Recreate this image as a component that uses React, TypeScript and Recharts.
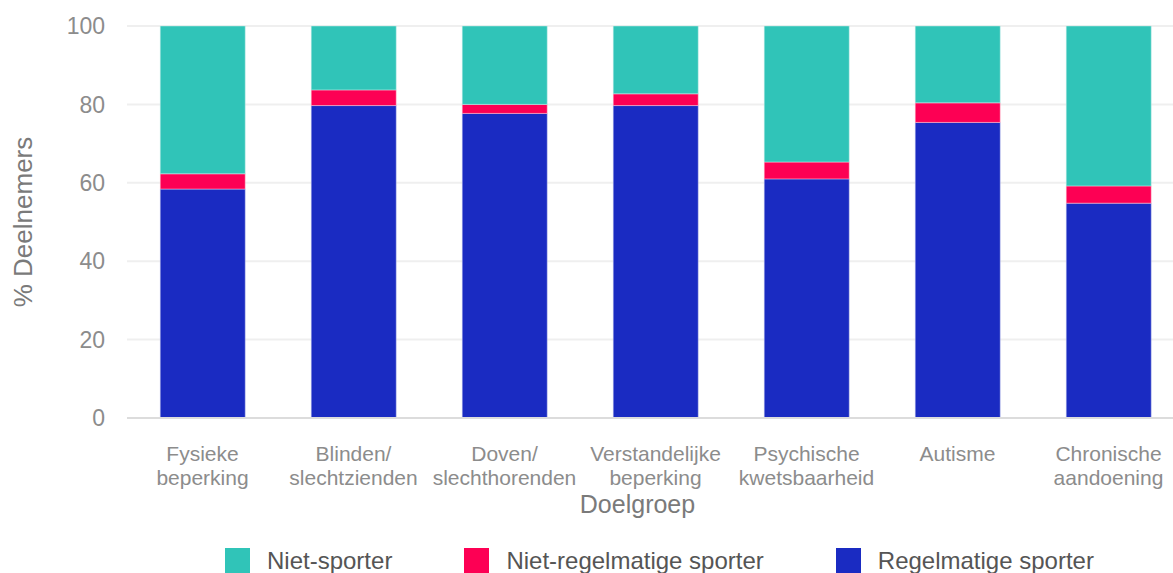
import { BarChart, Bar, XAxis, YAxis, CartesianGrid, Legend, Label } from 'recharts';

const categories = [
  'Fysieke\nbeperking',
  'Blinden/\nslechtzienden',
  'Doven/\nslechthorenden',
  'Verstandelijke\nbeperking',
  'Psychische\nkwetsbaarheid',
  'Autisme',
  'Chronische\naandoening',
];
const regelmatig = [58.4, 79.7, 77.7, 79.7, 61.0, 75.4, 54.8];
const nietRegelmatig = [3.9, 4.0, 2.3, 3.0, 4.3, 5.0, 4.4];
const nietSporter = [37.7, 16.3, 20.0, 17.3, 34.7, 19.6, 40.8];
const yTicks = [0, 20, 40, 60, 80, 100];

const data = categories.map((name, i) => ({
  name,
  regelmatig: regelmatig[i],
  nietRegelmatig: nietRegelmatig[i],
  nietSporter: nietSporter[i],
}));

const legendItems = [
  { label: 'Niet-sporter', color: '#30c4b8' },
  { label: 'Niet-regelmatige sporter', color: '#fd0054' },
  { label: 'Regelmatige sporter', color: '#1a2bc2' },
];

const FONT = '"Liberation Sans", Arial, sans-serif';

function CategoryTick({ x, y, payload }: any) {
  const lines = String(payload.value).split('\n');
  return (
    <text x={x} y={y + 35} textAnchor="middle" fill="#8c8c8c" fontSize={21} fontFamily={FONT}>
      {lines.map((line, i) => (
        <tspan key={i} x={x} dy={i === 0 ? 0 : 24}>
          {line}
        </tspan>
      ))}
    </text>
  );
}

function SportLegend() {
  return (
    <div
      style={{
        display: 'flex',
        justifyContent: 'flex-start',
        gap: 72,
        paddingLeft: 225,
        height: 30,
        fontFamily: FONT,
        fontSize: 24,
        color: '#555',
      }}
    >
      {legendItems.map((item) => (
        <div key={item.label} style={{ display: 'flex', alignItems: 'flex-start', gap: 17 }}>
          <span style={{ width: 25, height: 26, background: item.color, display: 'inline-block' }} />
          <span style={{ lineHeight: '25px' }}>{item.label}</span>
        </div>
      ))}
    </div>
  );
}

export default function App() {
  return (
    <div style={{ position: 'fixed', top: 0, left: 0, width: 1173, height: 573, overflow: 'hidden', background: '#fff' }}>
      <BarChart
        width={1200}
        height={600}
        data={data}
        margin={{ top: 26, right: 16, bottom: 22, left: 0 }}
        barCategoryGap="22%"
      >
        <CartesianGrid vertical={false} stroke="#efefef" strokeWidth={2} />
        <XAxis
          dataKey="name"
          height={130}
          tick={<CategoryTick />}
          tickLine={false}
          axisLine={{ stroke: '#dcdcdc', strokeWidth: 2 }}
          interval={0}
        >
          <Label
            value="Doelgroep"
            position="insideTop"
            offset={77}
            dx={-18}
            fill="#7a7a7a"
            fontSize={25}
            fontFamily={FONT}
          />
        </XAxis>
        <YAxis
          width={127}
          domain={[0, 100]}
          ticks={yTicks}
          tickLine={false}
          tickSize={0}
          tickMargin={22}
          axisLine={false}
          tick={{ fill: '#8c8c8c', fontSize: 23, fontFamily: FONT }}
        >
          <Label
            value="% Deelnemers"
            angle={-90}
            position="insideLeft"
            offset={23}
            fill="#7a7a7a"
            fontSize={26}
            fontFamily={FONT}
            style={{ textAnchor: 'middle' }}
          />
        </YAxis>
        <Legend verticalAlign="bottom" content={<SportLegend />} />
        <Bar dataKey="regelmatig" stackId="a" fill="#1a2bc2" stroke="#c8ccf0" strokeWidth={0.5} isAnimationActive={false} />
        <Bar dataKey="nietRegelmatig" stackId="a" fill="#fd0054" stroke="#ffd0dd" strokeWidth={0.5} isAnimationActive={false} />
        <Bar dataKey="nietSporter" stackId="a" fill="#30c4b8" stroke="#c8efea" strokeWidth={0.5} isAnimationActive={false} />
      </BarChart>
    </div>
  );
}
